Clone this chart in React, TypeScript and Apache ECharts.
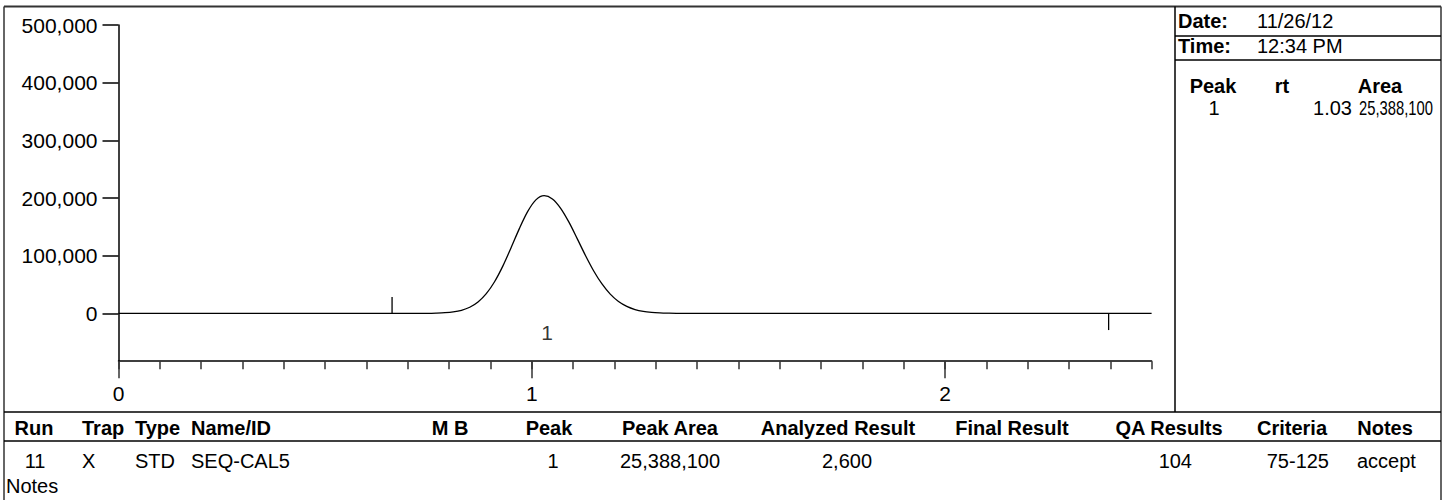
import React, { useEffect, useRef } from "react";
import * as echarts from "echarts";

// ---- data ----
const traceTime = [0, 0.662, 0.75, 0.77, 0.79, 0.81, 0.83, 0.85, 0.87, 0.89, 0.91, 0.93, 0.95, 0.97, 0.99, 1.01, 1.03, 1.05, 1.07, 1.09, 1.11, 1.13, 1.15, 1.17, 1.19, 1.21, 1.23, 1.25, 1.27, 1.29, 1.31, 1.33, 1.35, 2.396, 2.5];
const traceSignal = [0, 0, 0, 400, 1100, 2500, 5300, 10600, 19700, 34100, 54800, 81900, 113700, 146900, 176300, 196700, 204000, 198300, 182100, 158100, 129600, 100400, 73500, 50900, 33300, 20500, 12000, 6600, 3400, 1700, 800, 300, 0, 0, 0];
const markerTimes = [0.662, 2.396];
const markerHeights = [28300, -29000];
const peakIds = ["1"];
const peakTimes = [1.03];
const yTickValues = [0, 100000, 200000, 300000, 400000, 500000];
const xLabelValues = [0, 1, 2];

const infoLabels = ["Date:", "Time:"];
const infoValues = ["11/26/12", "12:34 PM"];
const peakTableHeaders = ["Peak", "rt", "Area"];
const peakTableRow = ["1", "1.03", "25,388,100"];

const resultHeaders = ["Run", "Trap", "Type", "Name/ID", "M B", "Peak", "Peak Area", "Analyzed Result", "Final Result", "QA Results", "Criteria", "Notes"];
const resultRow = ["11", "X", "STD", "SEQ-CAL5", "", "1", "25,388,100", "2,600", "", "104", "75-125", "accept"];
const notesLabel = "Notes";

// ---- layout (positions only) ----
const FONT = "Liberation Sans, Arial, sans-serif";
const headerLayout: [number, string][] = [
  [34, "center"], [82, "left"], [135, "left"], [191, "left"], [450, "center"], [549, "center"],
  [670, "center"], [838, "center"], [1012, "center"], [1169, "center"], [1292, "center"], [1385, "center"],
];
const rowLayout: [number, string][] = [
  [35, "center"], [82, "left"], [135, "left"], [191, "left"], [450, "center"], [553, "center"],
  [670, "center"], [847, "center"], [1012, "center"], [1192, "right"], [1329, "right"], [1357, "left"],
];
const peakHeaderLayout: [number, string][] = [[1213, "center"], [1282, "center"], [1380, "center"]];
const peakRowLayout: [number, string, number][] = [[1214, "center", 1], [1352, "right", 1], [1433, "right", 0.74]];

function txt(text: string, x: number, y: number, align: string, bold = false, size = 20, scaleX = 1) {
  return {
    type: "text",
    x,
    y,
    scaleX,
    silent: true,
    style: {
      text,
      fill: "#000",
      font: `${bold ? "bold " : ""}${size}px ${FONT}`,
      textAlign: align,
      textVerticalAlign: "middle",
      align,
      verticalAlign: "middle",
    },
  };
}

function ln(x1: number, y1: number, x2: number, y2: number, color = "#000", w = 1.5) {
  return {
    type: "line",
    silent: true,
    shape: { x1, y1, x2, y2 },
    style: { stroke: color, lineWidth: w },
  };
}

export default function App() {
  const ref = useRef<HTMLDivElement>(null);
  useEffect(() => {
    if (!ref.current) return;
    const chart = echarts.init(ref.current, null, { renderer: "svg" });

    const trace = traceTime.map((t, i) => [t, traceSignal[i]]);
    const markerSeries = markerTimes.map((t, i) => ({
      type: "line",
      data: [[t, 0], [t, markerHeights[i]]],
      symbol: "none",
      lineStyle: { color: "#000", width: 1.3 },
      silent: true,
      clip: false,
    }));

    const graphics: any[] = [];
    // frame
    graphics.push(ln(4, 6.5, 1441, 6.5, "#333", 2));
    graphics.push(ln(4, 6.5, 4, 500, "#333", 1.5));
    graphics.push(ln(1441, 6.5, 1441, 500, "#333", 1.5));
    graphics.push(ln(1175, 6.5, 1175, 412, "#000", 1.5));
    graphics.push(ln(1175, 36, 1441, 36, "#000", 1.5));
    graphics.push(ln(1175, 60, 1441, 60, "#000", 1.5));
    graphics.push(ln(4, 412, 1441, 412, "#000", 1.5));
    graphics.push(ln(4, 441, 1441, 441, "#000", 1.5));
    // info panel
    const infoY = [21, 46];
    infoLabels.forEach((l, i) => {
      graphics.push(txt(l, 1178, infoY[i], "left", true));
      graphics.push(txt(infoValues[i], 1257, infoY[i], "left"));
    });
    peakTableHeaders.forEach((h, i) => graphics.push(txt(h, peakHeaderLayout[i][0], 86, peakHeaderLayout[i][1], true)));
    peakTableRow.forEach((v, i) =>
      graphics.push(txt(v, peakRowLayout[i][0], 108, peakRowLayout[i][1], false, 20, peakRowLayout[i][2]))
    );
    // results table
    resultHeaders.forEach((h, i) => graphics.push(txt(h, headerLayout[i][0], 428, headerLayout[i][1], true)));
    resultRow.forEach((v, i) => {
      if (v) graphics.push(txt(v, rowLayout[i][0], 461, rowLayout[i][1]));
    });
    graphics.push(txt(notesLabel, 6, 486, "left"));

    chart.setOption({
      animation: false,
      backgroundColor: "#fff",
      textStyle: { fontFamily: FONT },
      grid: { left: 118.5, right: 295.4, top: 25, bottom: 138.8, containLabel: false },
      xAxis: [
        {
          type: "value",
          min: 0,
          max: 2.5,
          interval: 0.1,
          position: "bottom",
          axisLine: { show: true, onZero: false, lineStyle: { color: "#000", width: 1.5 } },
          axisTick: { show: true, length: 8, lineStyle: { color: "#333", width: 1.5 } },
          axisLabel: { show: false },
          splitLine: { show: false },
        },
        {
          type: "value",
          min: 0,
          max: 2.5,
          position: "bottom",
          axisLine: { show: false, onZero: false },
          axisTick: { show: true, length: 17, customValues: xLabelValues, lineStyle: { color: "#333", width: 1.5 } },
          axisLabel: { customValues: xLabelValues, margin: 22, fontSize: 21, color: "#000", fontFamily: FONT },
          splitLine: { show: false },
        },
      ],
      yAxis: {
        type: "value",
        min: -83000,
        max: 500000,
        axisLine: { show: true, onZero: false, lineStyle: { color: "#000", width: 1.5 } },
        axisTick: { show: true, length: 16, customValues: yTickValues, lineStyle: { color: "#000", width: 1.5 } },
        axisLabel: {
          customValues: yTickValues,
          margin: 21,
          fontSize: 21,
          color: "#000",
          fontFamily: FONT,
          formatter: (v: number) => v.toLocaleString("en-US"),
        },
        splitLine: { show: false },
      },
      series: [
        {
          type: "line",
          data: trace,
          symbol: "none",
          smooth: 0.3,
          lineStyle: { color: "#000", width: 1.3 },
          silent: true,
          clip: false,
        },
        ...markerSeries,
        {
          type: "scatter",
          data: peakTimes.map((t, i) => ({ value: [t, 0], name: peakIds[i] })),
          symbolSize: 0,
          silent: true,
          label: {
            show: true,
            position: "inside",
            offset: [3, 19],
            formatter: (p: any) => p.name,
            fontSize: 21,
            color: "#000",
            fontFamily: FONT,
          },
        },
      ],
      graphic: graphics,
    });
    return () => chart.dispose();
  }, []);
  return <div ref={ref} style={{ position: "fixed", left: 0, top: 0, width: 1447, height: 500, background: "#fff" }} />;
}
